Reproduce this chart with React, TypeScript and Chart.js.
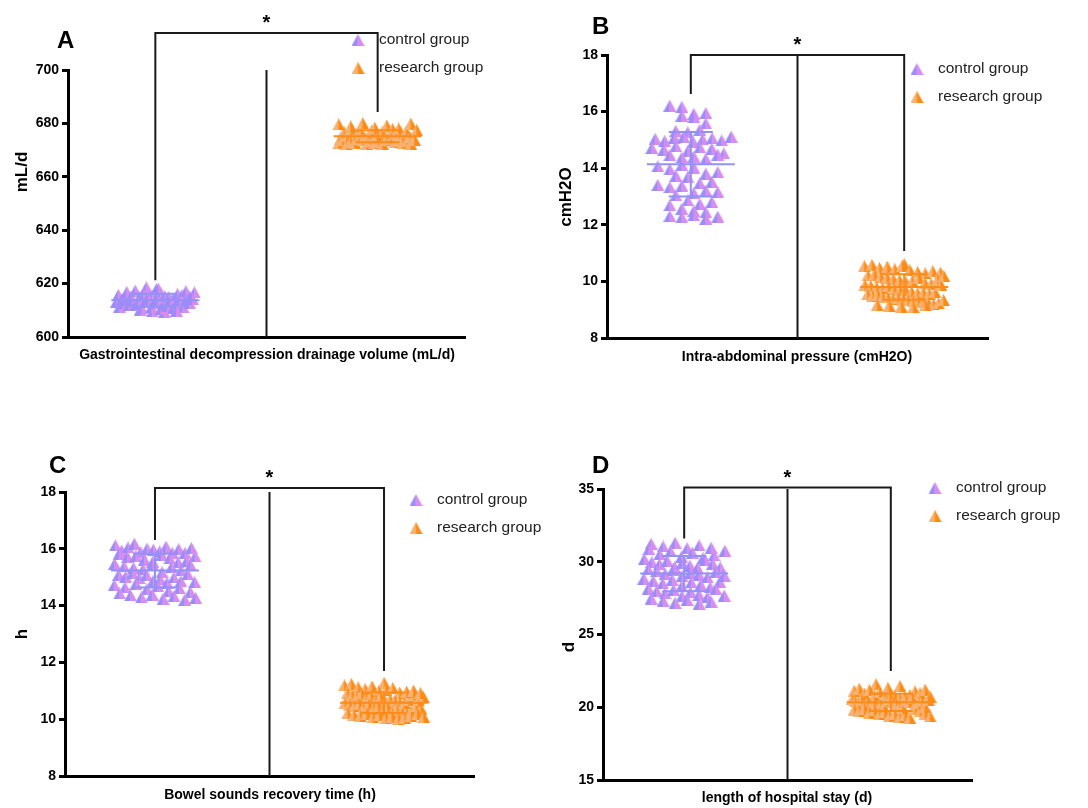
import React, { useEffect, useRef } from "react";
import { Chart, registerables } from "chart.js";

Chart.register(...registerables);

// ---------- data ----------
const GROUPS = ["control group", "research group"];

const A_CONTROL = [613.2, 615.8, 611.4, 618.6, 612.7, 614.3, 616.9, 610.2, 613.9, 615.1,
  612.1, 617.4, 614.8, 609.6, 613.5, 616.2, 611.9, 614.6, 612.4, 615.5,
  610.7, 617.9, 613.1, 614.1, 611.1, 616.5, 612.9, 609.3, 615.3, 613.7,
  614.9, 610.5, 618.1, 612.2, 614.4, 611.6, 616.1, 613.4, 610.9, 615.7,
  612.6, 614.0, 617.2, 611.3, 613.8, 609.9, 615.0, 612.8, 616.7, 614.2];
const A_RESEARCH = [674.3, 676.8, 672.5, 679.6, 673.9, 675.4, 672.1, 677.7, 674.8, 673.2,
  678.9, 675.9, 672.8, 674.1, 676.3, 673.6, 680.1, 674.6, 672.4, 675.1,
  677.2, 673.4, 674.9, 678.4, 672.7, 675.7, 673.1, 676.6, 674.4, 672.2,
  679.2, 675.3, 673.8, 677.9, 674.0, 672.9, 676.1, 673.5, 675.6, 678.1,
  672.6, 674.7, 676.9, 673.3, 675.0, 679.9, 672.3, 674.2, 677.5, 673.7];

const B_CONTROL = [16.21, 16.17, 15.92, 15.86, 15.95, 15.81, 15.58, 15.32, 15.27, 15.36,
  15.04, 14.96, 15.08, 15.11, 14.93, 15.02, 15.06, 14.98, 15.12,
  14.72, 14.66, 14.78, 14.61, 14.74, 14.69,
  14.46, 14.38, 14.52, 14.41, 14.33, 14.48,
  14.07, 13.96, 14.12, 14.02,
  13.81, 13.74, 13.69, 13.86,
  13.47, 13.41, 13.52, 13.33, 13.38,
  13.12, 13.21, 13.04, 13.16,
  12.86, 12.74, 12.81, 12.69,
  12.57, 12.49, 12.44,
  12.31, 12.27, 12.34, 12.22, 12.29];
const B_RESEARCH = [10.61, 10.54, 10.58, 10.47, 10.52, 10.43, 10.56, 10.39, 10.33, 10.28,
  10.36, 10.21, 10.31, 10.24, 10.17, 10.13, 10.08, 10.04, 9.97, 10.01,
  10.11, 9.94, 9.91, 10.06, 9.87, 9.84, 9.79, 9.76, 9.83, 9.73,
  9.71, 9.68, 9.63, 9.58, 9.61, 9.54, 9.57, 9.49, 9.52, 9.46,
  9.44, 9.38, 9.41, 9.36, 9.33, 9.29, 9.31, 9.26, 9.24, 9.19,
  9.22, 9.17, 9.14, 9.11, 9.09, 9.16, 9.62, 9.88, 10.19, 9.34];

const C_CONTROL = [16.12, 15.94, 16.05, 15.83, 16.18, 15.71, 15.88, 16.01, 15.76, 15.97,
  15.62, 15.91, 16.08, 15.55, 15.85, 15.47, 15.79, 15.38, 15.66, 15.99,
  15.33, 15.52, 15.28, 15.44, 15.18, 15.36, 15.09, 15.24, 15.02, 15.14,
  14.96, 15.07, 14.88, 14.93, 14.81, 14.99, 14.72, 14.86, 14.64, 14.77,
  14.58, 14.69, 14.51, 14.43, 14.61, 14.36, 14.48, 14.29, 14.39, 14.24,
  14.33, 14.21, 14.27, 15.58, 15.74, 15.42, 15.11, 14.83, 15.86, 16.03];
const C_RESEARCH = [11.28, 11.19, 11.24, 11.12, 11.06, 11.15, 10.98, 11.03, 10.91, 11.09,
  10.86, 10.94, 10.79, 10.88, 10.73, 10.82, 10.67, 10.76, 10.62, 10.7,
  10.56, 10.64, 10.51, 10.59, 10.46, 10.54, 10.41, 10.49, 10.36, 10.44,
  10.31, 10.39, 10.26, 10.34, 10.21, 10.29, 10.16, 10.24, 10.11, 10.19,
  10.07, 10.14, 10.03, 10.09, 10.01, 10.05, 10.12, 10.27, 10.58, 10.69,
  10.84, 10.97, 11.01, 10.47, 10.37, 10.18, 10.08, 10.66, 10.78, 10.92];

const D_CONTROL = [31.24, 30.86, 31.05, 30.52, 31.31, 30.71, 30.18, 30.93, 30.34, 30.62,
  29.97, 30.27, 29.83, 30.08, 29.65, 29.91, 29.48, 29.74, 29.36, 29.58,
  29.17, 29.43, 29.02, 29.26, 28.84, 29.11, 28.67, 28.93, 28.51, 28.76,
  28.33, 28.58, 28.16, 28.42, 27.98, 28.24, 27.82, 28.07, 27.64, 27.91,
  27.47, 27.73, 27.31, 27.56, 27.18, 27.39, 27.12, 27.26, 30.44, 30.13,
  29.87, 29.61, 29.32, 31.12, 30.97, 28.62, 28.11, 27.68, 29.05, 30.76];
const D_RESEARCH = [21.58, 21.33, 21.46, 21.12, 21.27, 20.94, 21.18, 20.81, 21.04, 20.67,
  20.89, 20.54, 20.76, 20.42, 20.63, 20.31, 20.51, 20.19, 20.38, 20.07,
  20.26, 19.96, 20.14, 19.84, 20.02, 19.73, 19.91, 19.62, 19.79, 19.51,
  19.68, 19.42, 19.57, 19.33, 19.47, 19.26, 20.45, 20.58, 20.71, 20.36,
  20.22, 20.09, 19.98, 20.84, 21.09, 20.47, 20.33, 19.88, 20.61, 20.17,
  19.71, 20.96, 21.21, 20.28, 19.55, 20.73, 20.41, 20.04, 19.37, 20.52];

// y axis ranges: [min, max, step]
const A_Y = [600, 700, 20];
const B_Y = [8, 18, 2];
const C_Y = [8, 18, 2];
const D_Y = [15, 35, 5];

// significance brackets: [top, left end, right end]
const A_BRACKET = [713.9, 621.3, 684.3];
const B_BRACKET = [18.0, 16.62, 11.07];
const C_BRACKET = [18.14, 16.31, 11.7];
const D_BRACKET = [35.1, 31.6, 22.5];

const Y_TITLES = ["mL/d", "cmH2O", "h", "d"];
const X_TITLES = [
  "Gastrointestinal decompression drainage volume (mL/d)",
  "Intra-abdominal pressure (cmH2O)",
  "Bowel sounds recovery time (h)",
  "length of hospital stay (d)",
];
const LETTERS = ["A", "B", "C", "D"];

// ---------- style / layout ----------
const W = 1088;
const H = 808;
const FONT = "'Liberation Sans', Arial, Helvetica, sans-serif";
const CTRL_COLORS = ["#9b8cf8", "#d78cf0"];
const RES_COLORS = ["#f5b273", "#ff8a12"];
const CTRL_LINE = "#9292f6";
const RES_LINE = "#ff8c1a";
const CENTERS = [0.22, 0.78];

type Layout = {
  area: [number, number, number, number]; // left, top, right, bottom
  letter: [number, number];
  yTitle: [number, number];
  xTitle: [number, number];
  legend: [number, number];
};

const LAYOUTS: Layout[] = [
  { area: [68, 70, 465, 337], letter: [57, 41], yTitle: [22, 172], xTitle: [267, 355], legend: [358, 40] },
  { area: [607, 55, 988, 338], letter: [592, 27], yTitle: [566, 197], xTitle: [797, 357], legend: [917, 69] },
  { area: [65, 492, 474, 776], letter: [49, 466], yTitle: [22, 634], xTitle: [270, 795], legend: [416, 500] },
  { area: [603, 489, 972, 780], letter: [592, 466], yTitle: [569, 647], xTitle: [787, 798], legend: [935, 488] },
];

const PANEL_DATA = [
  { groups: [A_CONTROL, A_RESEARCH], y: A_Y, bracket: A_BRACKET },
  { groups: [B_CONTROL, B_RESEARCH], y: B_Y, bracket: B_BRACKET },
  { groups: [C_CONTROL, C_RESEARCH], y: C_Y, bracket: C_BRACKET },
  { groups: [D_CONTROL, D_RESEARCH], y: D_Y, bracket: D_BRACKET },
];

function makeTriangle(c1: string, c2: string): HTMLCanvasElement {
  const cv = document.createElement("canvas");
  const w = 13;
  const h = 12;
  cv.width = w;
  cv.height = h;
  const ctx = cv.getContext("2d")!;
  ctx.beginPath();
  ctx.moveTo(0, h);
  ctx.lineTo(w / 2, 0);
  ctx.lineTo(w / 2, h);
  ctx.closePath();
  ctx.fillStyle = c1;
  ctx.fill();
  ctx.beginPath();
  ctx.moveTo(w / 2, 0);
  ctx.lineTo(w, h);
  ctx.lineTo(w / 2 - 0.3, h);
  ctx.lineTo(w / 2 - 0.3, 0.5);
  ctx.closePath();
  ctx.fillStyle = c2;
  ctx.fill();
  return cv;
}

// beeswarm-like layout: bin values into pixel rows, spread points in a row horizontally,
// staggering alternate rows so the cloud looks less grid-like
function swarm(values: number[], center: number, pxPerUnit: number, chartW: number) {
  const binPx = 10;
  const maxHalf = 38;
  const step = 12;
  const rows = new Map<number, number[]>();
  values.forEach((v, i) => {
    const k = Math.floor((v * pxPerUnit) / binPx);
    if (!rows.has(k)) rows.set(k, []);
    rows.get(k)!.push(i);
  });
  const out: { x: number; y: number }[] = new Array(values.length);
  rows.forEach((idx, k) => {
    const n = idx.length;
    const sp = n > 1 ? Math.min(step, (2 * maxHalf) / (n - 1)) : 0;
    const shift = k % 2 === 0 ? sp / 4 : -sp / 4;
    idx.forEach((i, j) => {
      const off = (j - (n - 1) / 2) * sp + shift;
      out[i] = { x: center + off / chartW, y: values[i] };
    });
  });
  return out;
}

function meanSd(values: number[]) {
  const m = values.reduce((a, b) => a + b, 0) / values.length;
  const v = values.reduce((a, b) => a + (b - m) * (b - m), 0) / (values.length - 1);
  return [m, Math.sqrt(v)];
}

function Panel({ index }: { index: number }) {
  const ref = useRef<HTMLCanvasElement>(null);
  useEffect(() => {
    const lay = LAYOUTS[index];
    const pd = PANEL_DATA[index];
    const [left, top, right, bottom] = lay.area;
    const [ymin, ymax, ystep] = pd.y;
    const chartW = right - left;
    const ppu = (bottom - top) / (ymax - ymin);
    const triCtrl = makeTriangle(CTRL_COLORS[0], CTRL_COLORS[1]);
    const triRes = makeTriangle(RES_COLORS[0], RES_COLORS[1]);
    const tris = [triCtrl, triRes];
    const lineColors = [CTRL_LINE, RES_LINE];
    const Y_AXIS_W = 50;
    const X_AXIS_H = 4;

    const decor = {
      id: "decor" + index,
      afterDraw(chart: any) {
        const ctx = chart.ctx as CanvasRenderingContext2D;
        const xs = chart.scales.x;
        const ys = chart.scales.y;
        const ca = chart.chartArea;
        ctx.save();
        // mean and SD lines
        pd.groups.forEach((vals, gi) => {
          const [m, sd] = meanSd(vals);
          const cx = xs.getPixelForValue(CENTERS[gi]);
          ctx.strokeStyle = lineColors[gi];
          ctx.lineWidth = 2;
          ctx.beginPath();
          ctx.moveTo(cx - 44, ys.getPixelForValue(m));
          ctx.lineTo(cx + 44, ys.getPixelForValue(m));
          ctx.moveTo(cx - 22, ys.getPixelForValue(m + sd));
          ctx.lineTo(cx + 22, ys.getPixelForValue(m + sd));
          ctx.moveTo(cx - 22, ys.getPixelForValue(m - sd));
          ctx.lineTo(cx + 22, ys.getPixelForValue(m - sd));
          ctx.moveTo(cx, ys.getPixelForValue(m + sd));
          ctx.lineTo(cx, ys.getPixelForValue(m - sd));
          ctx.stroke();
        });
        // centre divider
        const mid = xs.getPixelForValue(0.5);
        ctx.strokeStyle = "#1a1a1a";
        ctx.lineWidth = 2;
        ctx.beginPath();
        ctx.moveTo(mid, ca.top);
        ctx.lineTo(mid, ca.bottom);
        ctx.stroke();
        // bracket
        const [bt, bl, br] = pd.bracket;
        const xl = xs.getPixelForValue(CENTERS[0]);
        const xr = xs.getPixelForValue(CENTERS[1]);
        const yt = ys.getPixelForValue(bt);
        ctx.beginPath();
        ctx.moveTo(xl, ys.getPixelForValue(bl));
        ctx.lineTo(xl, yt);
        ctx.lineTo(xr, yt);
        ctx.lineTo(xr, ys.getPixelForValue(br));
        ctx.stroke();
        // asterisk
        ctx.fillStyle = "#000";
        ctx.font = `bold 20px ${FONT}`;
        ctx.textAlign = "center";
        ctx.textBaseline = "alphabetic";
        ctx.fillText("*", mid, yt - 15 + 11);
        // legend
        const [lx, ly] = lay.legend;
        ctx.font = `15.5px ${FONT}`;
        ctx.textAlign = "left";
        ctx.textBaseline = "middle";
        GROUPS.forEach((g, gi) => {
          const yy = ly + gi * 28;
          const t = tris[gi];
          ctx.drawImage(t, lx - t.width / 2, yy - t.height / 2);
          ctx.fillStyle = "#222";
          ctx.fillText(g, lx + 21, yy);
        });
        // y title
        ctx.fillStyle = "#000";
        ctx.font = `bold 17px ${FONT}`;
        ctx.save();
        ctx.translate(lay.yTitle[0], lay.yTitle[1]);
        ctx.rotate(-Math.PI / 2);
        ctx.textAlign = "center";
        ctx.textBaseline = "middle";
        ctx.fillText(Y_TITLES[index], 0, 0);
        ctx.restore();
        // x title
        ctx.font = `bold 14px ${FONT}`;
        ctx.textAlign = "center";
        ctx.textBaseline = "middle";
        ctx.fillText(X_TITLES[index], lay.xTitle[0], lay.xTitle[1]);
        // panel letter
        ctx.font = `bold 24px ${FONT}`;
        ctx.textAlign = "left";
        ctx.fillText(LETTERS[index], lay.letter[0], lay.letter[1]);
        ctx.restore();
      },
    };

    const chart = new Chart(ref.current!, {
      type: "scatter",
      data: {
        datasets: pd.groups.map((vals, gi) => ({
          label: GROUPS[gi],
          data: swarm(vals, CENTERS[gi], ppu, chartW),
          pointStyle: tris[gi] as any,
          pointRadius: 6,
          showLine: false,
        })),
      },
      options: {
        responsive: false,
        animation: false,
        events: [],
        layout: {
          padding: {
            left: left - Y_AXIS_W,
            top: top,
            right: W - right,
            bottom: H - bottom - X_AXIS_H,
          },
        },
        plugins: {
          legend: { display: false },
          tooltip: { enabled: false },
        },
        scales: {
          x: {
            type: "linear",
            min: 0,
            max: 1,
            ticks: { display: false },
            grid: { display: true, drawOnChartArea: false, drawTicks: false, color: "rgba(0,0,0,0)" },
            border: { display: true, color: "#000", width: 3 },
            afterFit: (s: any) => {
              s.height = X_AXIS_H;
            },
          },
          y: {
            type: "linear",
            min: ymin,
            max: ymax,
            ticks: {
              stepSize: ystep,
              color: "#000",
              padding: 3,
              font: { family: FONT, weight: "bold", size: 14 },
            },
            grid: {
              display: true,
              drawOnChartArea: false,
              drawTicks: true,
              tickLength: 6,
              tickWidth: 3,
              tickColor: "#000",
              color: "#000",
            },
            border: { display: true, color: "#000", width: 3 },
            afterFit: (s: any) => {
              s.width = Y_AXIS_W;
            },
          },
        },
      },
      plugins: [decor],
    } as any);
    return () => chart.destroy();
  }, [index]);
  return (
    <canvas
      ref={ref}
      width={W}
      height={H}
      style={{ position: "absolute", left: 0, top: 0, width: W, height: H }}
    />
  );
}

export default function App() {
  return (
    <div style={{ position: "fixed", left: 0, top: 0, width: W, height: H, background: "#fff" }}>
      {LETTERS.map((_, i) => (
        <Panel key={i} index={i} />
      ))}
    </div>
  );
}
